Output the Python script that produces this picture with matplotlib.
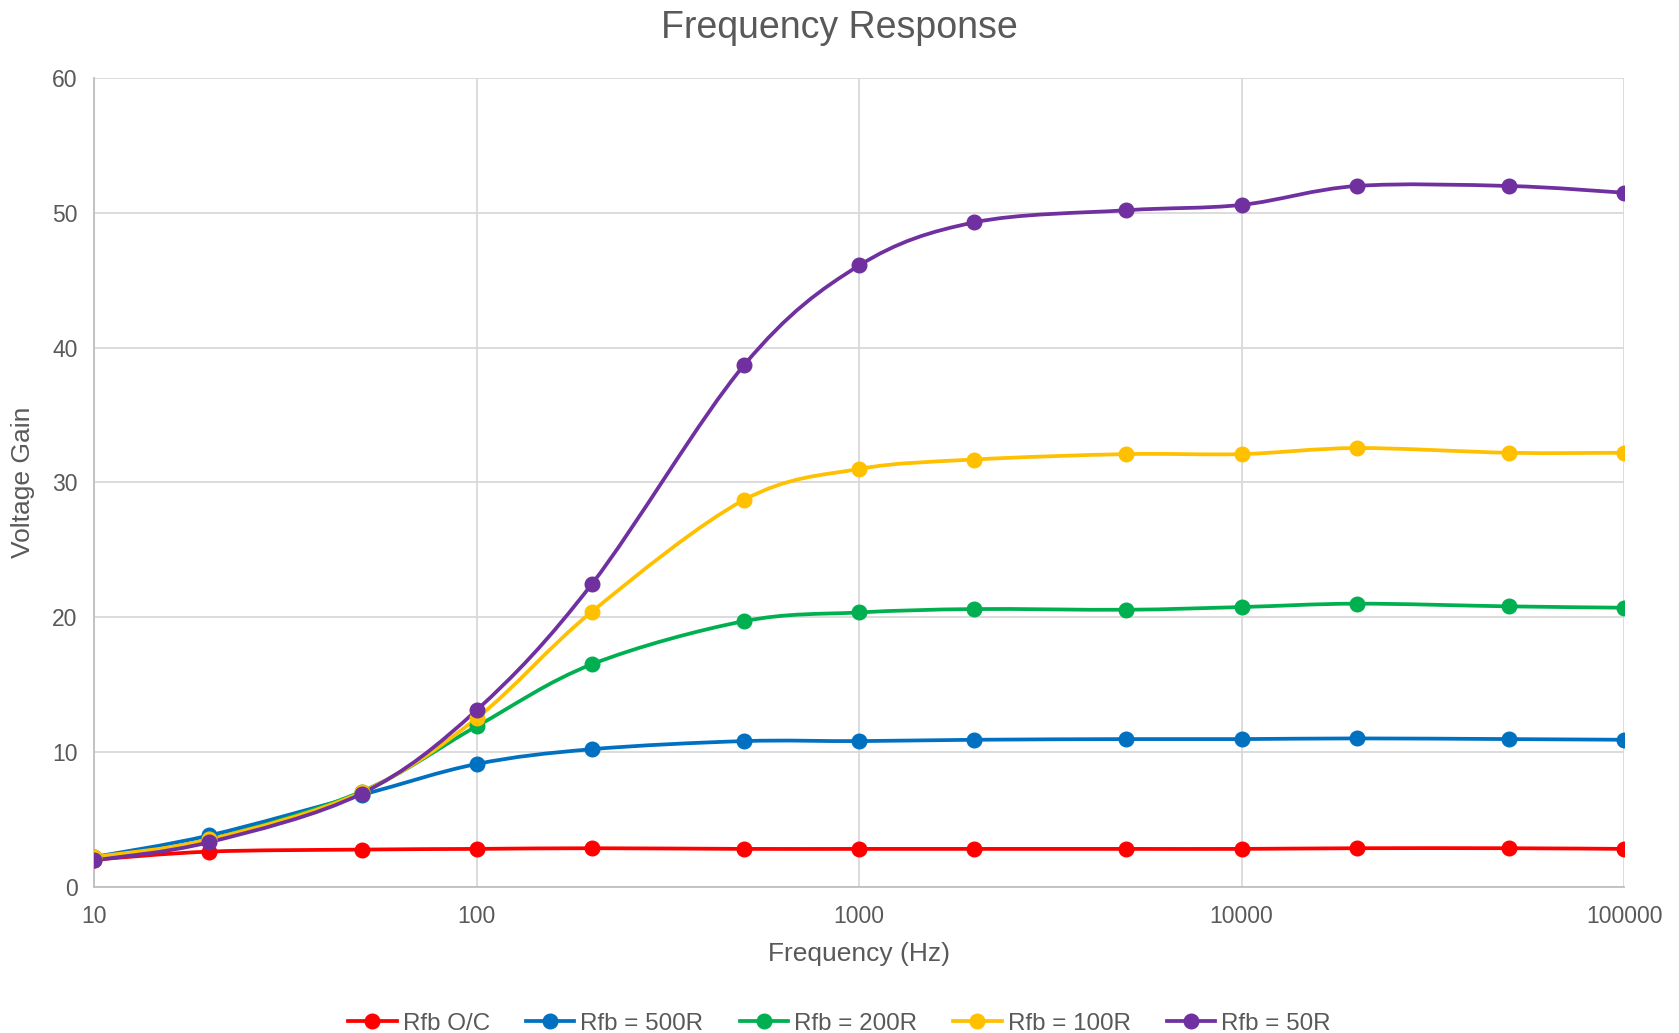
import numpy as np
import matplotlib.pyplot as plt
from matplotlib.path import Path
from matplotlib.patches import PathPatch
from matplotlib.lines import Line2D
from matplotlib.ticker import FixedLocator, FixedFormatter, NullLocator

plt.rcParams["font.family"] = ["Liberation Sans", "DejaVu Sans"]

frequencies = [10, 20, 50, 100, 200, 500, 1000, 2000, 5000, 10000, 20000, 50000, 100000]

gain_open = [2.0, 2.6, 2.75, 2.8, 2.85, 2.8, 2.8, 2.8, 2.8, 2.8, 2.85, 2.85, 2.8]
gain_500r = [2.2, 3.8, 6.8, 9.1, 10.2, 10.8, 10.8, 10.9, 10.95, 10.95, 11.0, 10.95, 10.9]
gain_200r = [2.1, 3.5, 7.05, 11.9, 16.5, 19.7, 20.35, 20.6, 20.55, 20.75, 21.0, 20.8, 20.7]
gain_100r = [2.2, 3.5, 7.0, 12.5, 20.4, 28.7, 31.0, 31.7, 32.1, 32.1, 32.55, 32.2, 32.2]
gain_50r = [1.95, 3.3, 6.9, 13.1, 22.45, 38.7, 46.1, 49.3, 50.2, 50.6, 52.0, 52.0, 51.5]

series_labels = ["Rfb O/C", "Rfb = 500R", "Rfb = 200R", "Rfb = 100R", "Rfb = 50R"]
series_values = [gain_open, gain_500r, gain_200r, gain_100r, gain_50r]
series_colors = ["#FF0000", "#0070C0", "#00B050", "#FFC000", "#7030A0"]

x_ticks = [10, 100, 1000, 10000, 100000]
x_tick_labels = ["10", "100", "1000", "10000", "100000"]
y_ticks = [0, 10, 20, 30, 40, 50, 60]

text_color = "#595959"


def smooth_path(xs, ys):
    """Excel-style smoothed line: Catmull-Rom as cubic Bezier in log-x space."""
    lx = np.log10(np.asarray(xs, dtype=float))
    ly = np.asarray(ys, dtype=float)
    pts = np.column_stack([lx, ly])
    n = len(pts)
    verts = [pts[0]]
    codes = [Path.MOVETO]
    for i in range(n - 1):
        p0 = pts[i - 1] if i > 0 else pts[i]
        p1 = pts[i]
        p2 = pts[i + 1]
        p3 = pts[i + 2] if i + 2 < n else pts[i + 1]
        c1 = p1 + (p2 - p0) / 6.0
        c2 = p2 - (p3 - p1) / 6.0
        verts.extend([c1, c2, p2])
        codes.extend([Path.CURVE4] * 3)
    verts = np.array(verts)
    verts[:, 0] = 10 ** verts[:, 0]
    return Path(verts, codes)


figure = plt.figure(figsize=(16.79, 10.33), dpi=100)
axis = figure.add_axes([0.0561, 0.1417, 0.9112, 0.7826])

for label, values, color in zip(series_labels, series_values, series_colors):
    patch = PathPatch(
        smooth_path(frequencies, values),
        facecolor="none",
        edgecolor=color,
        linewidth=2.7,
        capstyle="round",
        joinstyle="round",
        zorder=3,
    )
    axis.add_patch(patch)
    axis.plot(
        frequencies,
        values,
        linestyle="none",
        marker="o",
        markersize=10.5,
        color=color,
        zorder=4,
    )

axis.set_xscale("log")
axis.set_xlim(10, 100000)
axis.set_ylim(0, 60)
axis.xaxis.set_major_locator(FixedLocator(x_ticks))
axis.xaxis.set_major_formatter(FixedFormatter(x_tick_labels))
axis.xaxis.set_minor_locator(NullLocator())
axis.set_yticks(y_ticks)

axis.grid(True, color="#D9D9D9", linewidth=1.3, zorder=0)
axis.set_axisbelow(True)
for side in ["top", "right"]:
    axis.spines[side].set_visible(False)
for side in ["left", "bottom"]:
    axis.spines[side].set_color("#BFBFBF")
    axis.spines[side].set_linewidth(1.3)

axis.tick_params(axis="both", length=0, labelsize=16.5, labelcolor=text_color)
axis.tick_params(axis="x", pad=13)
axis.tick_params(axis="y", pad=12)

axis.set_xlabel("Frequency (Hz)", fontsize=19, color=text_color, labelpad=10)
axis.set_ylabel("Voltage Gain", fontsize=19, color=text_color, labelpad=12)

figure.suptitle("Frequency Response", fontsize=27, color=text_color, y=0.99)

handles = [
    Line2D([0], [0], color=color, linewidth=2.7, marker="o", markersize=10.5)
    for color in series_colors
]
figure.legend(
    handles,
    series_labels,
    loc="center",
    bbox_to_anchor=(0.5, 0.009),
    ncol=5,
    frameon=False,
    fontsize=17.4,
    labelcolor=text_color,
    handlelength=2.0,
    handletextpad=0.25,
    columnspacing=1.5,
)

figure.savefig("out.png", dpi=100)
